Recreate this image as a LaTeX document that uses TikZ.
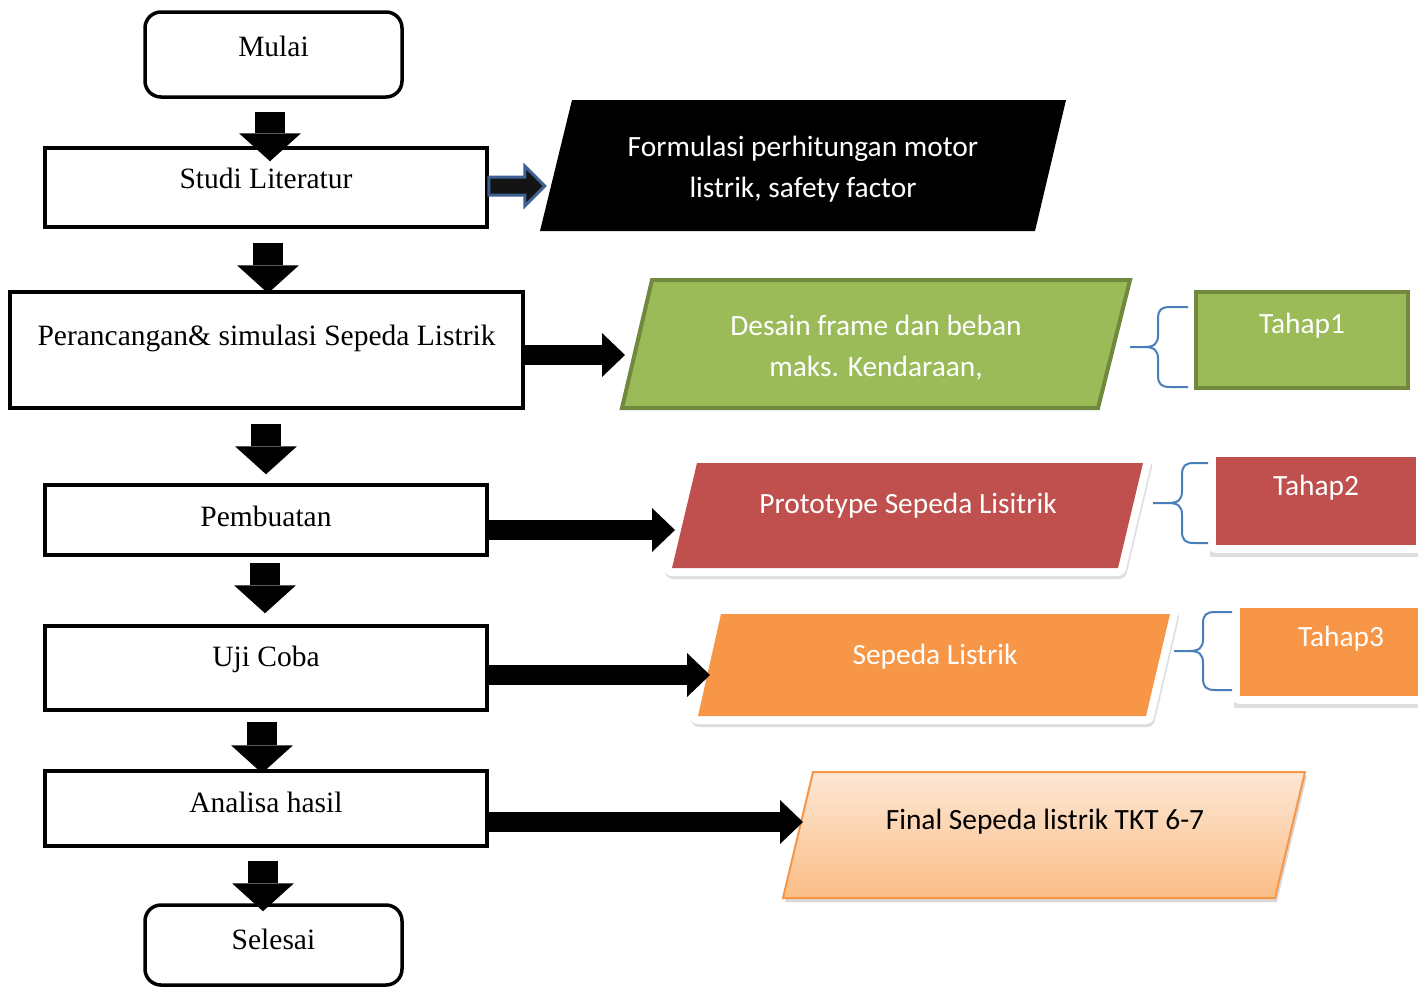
\documentclass[tikz,border=0pt]{standalone}
\usepackage{fontspec}
\setmainfont{Liberation Serif}
\newfontfamily\calfont{Carlito}
\usetikzlibrary{arrows.meta,calc,shadows}

\definecolor{gfill}{HTML}{9BBB59}
\definecolor{gline}{HTML}{71893F}
\definecolor{rfill}{HTML}{C0504D}
\definecolor{ofill}{HTML}{F79646}
\definecolor{bline}{HTML}{3C6192}
\definecolor{brc}{HTML}{4A7EBB}
\definecolor{ftop}{HTML}{FDE7D5}
\definecolor{fbot}{HTML}{FBBD86}

\tikzset{
  box/.style={draw=black, line width=3.5pt, rectangle, inner sep=0pt,
    font=\fontsize{29.5}{35}\selectfont, text height=20pt},
  startend/.style={box, rounded corners=16pt},
  downarr/.style={line width=30pt, -{Triangle[length=28pt,width=62pt,line width=0pt]}},
  rightarr/.style={line width=20pt, -{Triangle[length=23pt,width=44pt,line width=0pt]}},
  sans/.style={font=\calfont\fontsize{29.4}{41}\selectfont, inner sep=0pt},
  brace/.style={draw=brc, line width=2pt},
  pshadow/.style={fill=black!13, draw=black!13, line width=16pt, line join=round},
  whiteedge/.style={preaction={draw=white, line width=16pt, line join=round}},
  tahap/.style={rectangle, inner sep=0pt, sans, text=white, text height=20pt},
  tahapW/.style={tahap,
    drop shadow={shadow xshift=2pt, shadow yshift=-4pt, fill=black!13, draw=black!13, line width=16pt, opacity=1},
    whiteedge},
  bluearr/.style={fill=black!92, draw=bline, line width=3pt, line join=miter},
}

\newcommand\mybrace[6]{%
  \draw[brace] (#1,#4) -- ({#2+12},#4) .. controls ({#2+3},#4) and (#2,{#4+3}) .. (#2,{#4+12})
     -- (#2,{#5-12}) .. controls (#2,{#5-3}) and ({#2-4},#5) .. ({#2-14},#5) -- (#3,#5);
  \draw[brace] ({#2-14},#5) .. controls ({#2-4},#5) and (#2,{#5+3}) .. (#2,{#5+12})
     -- (#2,{#6-12}) .. controls (#2,{#6-3}) and ({#2+3},#6) .. ({#2+12},#6) -- (#1,#6);}

\begin{document}
\begin{tikzpicture}[x=1pt,y=-1pt]
\path[use as bounding box, clip] (0,0) rectangle (1418,989);
\fill[white] (0,0) rectangle (1418,989);

% ---- left column ----
\node[startend, minimum width=257pt, minimum height=85pt, text depth=16pt] (mulai) at (273.5,54.5) {Mulai};
\node[box, minimum width=442pt, minimum height=79pt, text depth=18pt] (studi) at (266,187.5) {Studi Literatur};
\node[box, minimum width=513pt, minimum height=116pt, text depth=29pt] (per) at (266.5,350) {Perancangan\& simulasi Sepeda Listrik};
\node[box, minimum width=442pt, minimum height=70pt, text depth=7pt] (pemb) at (266,520) {Pembuatan};
\node[box, minimum width=442pt, minimum height=84pt, text depth=23pt] (uji) at (266,668) {Uji Coba};
\node[box, minimum width=442pt, minimum height=75pt, text depth=12pt] (anal) at (266,808.5) {Analisa hasil};
\node[startend, minimum width=257pt, minimum height=80pt, text depth=11pt] (selesai) at (273.5,945) {Selesai};

% ---- down arrows ----
\draw[downarr] ([xshift=-3.5pt,yshift=-13pt]mulai.south) -- ([xshift=4pt,yshift=-15pt]studi.north);
\draw[downarr] ([xshift=2pt,yshift=-14pt]studi.south) -- ([xshift=1.5pt,yshift=-3pt]per.north);
\draw[downarr] ([xshift=-0.5pt,yshift=-14pt]per.south) -- ([yshift=9pt]pemb.north);
\draw[downarr] ([xshift=-1pt,yshift=-6pt]pemb.south) -- ([xshift=-1pt,yshift=11pt]uji.north);
\draw[downarr] ([xshift=-4pt,yshift=-10pt]uji.south) -- ([xshift=-4pt,yshift=-4pt]anal.north);
\draw[downarr] ([xshift=-3pt,yshift=-13pt]anal.south) -- ([xshift=-10.5pt,yshift=-8pt]selesai.north);

% ---- black parallelogram ----
\fill[black] (572,100) -- (1066,100) -- (1035,231) -- (540,231) -- cycle;
\node[sans, text=white, anchor=base] (f1) at (803,156) {Formulasi perhitungan motor};
\node[sans, text=white, anchor=base] (f2) at (803,197) {listrik, safety factor};
\coordinate (s0) at ([yshift=1.5pt]studi.east);
\draw[bluearr] ($(s0)+(0,-9)$) -- ($(s0)+(36,-9)$) -- ($(s0)+(36,-20)$) -- ($(s0)+(56,0)$)
   -- ($(s0)+(36,20)$) -- ($(s0)+(36,9)$) -- ($(s0)+(0,9)$) -- cycle;

% ---- green parallelogram ----
\draw[fill=gfill, draw=gline, line width=4pt] (652,280) -- (1130,280) -- (1098,408) -- (622,408) -- cycle;
\node[sans, text=white, anchor=base] (g1) at (876,335) {Desain frame dan beban};
\node[sans, text=white, anchor=base] (g2) at (876,376) {maks. Kendaraan,};
\coordinate (gin) at (625,355);
\draw[rightarr] ([yshift=-5pt]per.east) -- (gin);

% ---- red parallelogram ----
\path[pshadow, shift={(1,3)}] (697,463) -- (1143,463) -- (1118,568) -- (672,568) -- cycle;
\path[whiteedge, fill=rfill] (697,463) -- (1143,463) -- (1118,568) -- (672,568) -- cycle;
\node[sans, text=white, anchor=base] (r1) at (908,513) {Prototype Sepeda Lisitrik};
\coordinate (rin) at (675,530);
\draw[rightarr] ([yshift=-10pt]pemb.east) -- (rin);

% ---- orange parallelogram ----
\path[pshadow, shift={(1,3)}] (721,614) -- (1170,614) -- (1146,716) -- (698,716) -- cycle;
\path[whiteedge, fill=ofill] (721,614) -- (1170,614) -- (1146,716) -- (698,716) -- cycle;
\node[sans, text=white, anchor=base] (o1) at (935,664) {Sepeda Listrik};
\coordinate (oin) at (710,675);
\draw[rightarr] ([yshift=-7pt]uji.east) -- (oin);

% ---- final parallelogram ----
\fill[black!15, shift={(2,4)}] (813,772) -- (1305,772) -- (1275,898) -- (783,898) -- cycle;
\draw[draw=ofill, line width=2pt, top color=ftop, bottom color=fbot] (813,772) -- (1305,772) -- (1275,898) -- (783,898) -- cycle;
\node[sans, text=black, anchor=base] (fi) at (1045,829) {Final Sepeda listrik TKT 6-7};
\coordinate (fin) at (803,822);
\draw[rightarr] ([yshift=-13.5pt]anal.east) -- (fin);

% ---- tahap boxes ----
\node[tahap, fill=gfill, draw=gline, line width=4pt, minimum width=212pt, minimum height=96pt, text depth=34pt] (t1) at (1302,340) {Tahap1};
\node[tahapW, fill=rfill, minimum width=200pt, minimum height=88pt, text depth=32pt] (t2) at (1316,501) {Tahap2};
\node[tahapW, fill=ofill, minimum width=202pt, minimum height=88pt, text depth=32pt] (t3) at (1341,652) {Tahap3};

% ---- braces ----
\mybrace{1188}{1158}{1130}{307}{347}{387}
\mybrace{1208}{1182}{1153}{463}{503}{543}
\mybrace{1232}{1203}{1174}{612}{651}{690}
\end{tikzpicture}
\end{document}
